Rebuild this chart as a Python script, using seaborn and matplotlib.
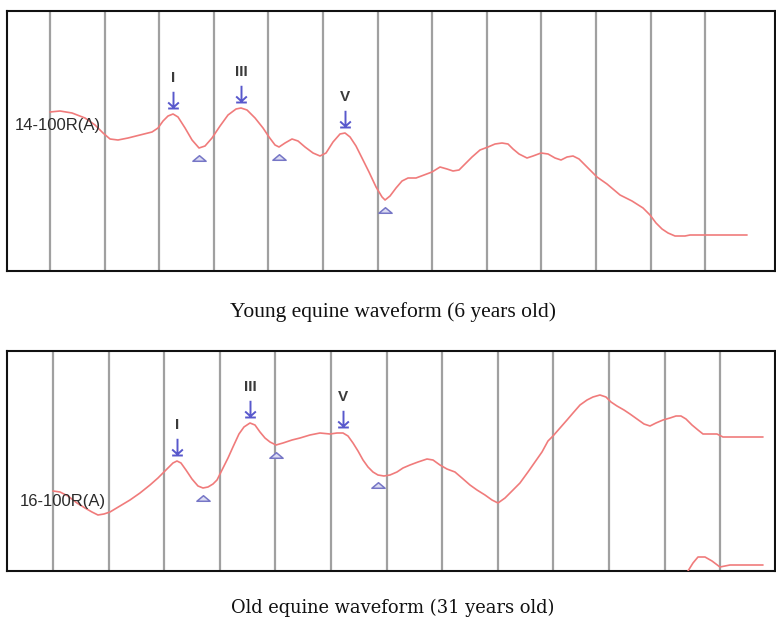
import matplotlib
matplotlib.use("Agg")
import matplotlib.pyplot as plt
import matplotlib.transforms as mtransforms
from matplotlib.path import Path
import numpy as np
import pandas as pd
import seaborn as sns

# ---- Young horse (6 years) : latency (ms) and amplitude (arbitrary units) ----
young_t = [0.000, 0.183, 0.403, 0.641, 0.824, 0.971, 1.099, 1.245, 1.429, 1.648,
           1.868, 1.978, 2.070, 2.161, 2.253, 2.344, 2.473, 2.601, 2.729, 2.839,
           2.967, 3.114, 3.260, 3.407, 3.498, 3.608, 3.755, 3.901, 4.011, 4.121,
           4.194, 4.304, 4.432, 4.542, 4.670, 4.817, 4.945, 5.055, 5.183, 5.311,
           5.403, 5.495, 5.604, 5.714, 5.842, 5.971, 6.081, 6.136, 6.227, 6.337,
           6.447, 6.557, 6.703, 6.850, 6.996, 7.143, 7.271, 7.381, 7.491, 7.601,
           7.729, 7.875, 8.022, 8.150, 8.278, 8.388, 8.480, 8.590, 8.736, 8.846,
           8.993, 9.121, 9.249, 9.359, 9.469, 9.579, 9.689, 9.835, 10.018, 10.201,
           10.440, 10.659, 10.861, 10.989, 11.099, 11.209, 11.319, 11.447, 11.630, 11.722,
           11.905, 12.766]
young_a = [15.9, 16.0, 15.8, 15.3, 14.6, 13.8, 13.2, 13.1, 13.3, 13.6,
           13.9, 14.3, 15.0, 15.5, 15.7, 15.4, 14.3, 13.1, 12.3, 12.5,
           13.3, 14.5, 15.6, 16.2, 16.3, 16.1, 15.3, 14.3, 13.4, 12.6,
           12.4, 12.8, 13.2, 13.0, 12.4, 11.8, 11.5, 11.8, 12.9, 13.7,
           13.8, 13.4, 12.5, 11.3, 9.9, 8.4, 7.4, 7.1, 7.5, 8.3,
           9.0, 9.3, 9.3, 9.6, 9.9, 10.4, 10.2, 10.0, 10.1, 10.7,
           11.4, 12.1, 12.4, 12.7, 12.8, 12.7, 12.2, 11.7, 11.3, 11.5,
           11.8, 11.7, 11.3, 11.1, 11.4, 11.5, 11.2, 10.4, 9.4, 8.7,
           7.6, 7.0, 6.3, 5.6, 4.8, 4.2, 3.8, 3.5, 3.5, 3.6,
           3.6, 3.6]
young_peak_labels = ["I", "III", "V"]
young_peak_t = [2.253, 3.498, 5.403]
young_peak_a = [15.7, 16.3, 13.8]
young_trough_t = [2.729, 4.194, 6.136]
young_trough_a = [12.3, 12.4, 7.1]

# ---- Old horse (31 years) ----
old_t = [0.000, 0.126, 0.270, 0.432, 0.576, 0.701, 0.809, 0.917, 1.025, 1.205,
         1.385, 1.565, 1.745, 1.888, 1.978, 2.068, 2.158, 2.230, 2.302, 2.392,
         2.500, 2.608, 2.698, 2.788, 2.878, 2.950, 3.040, 3.148, 3.237, 3.345,
         3.435, 3.543, 3.633, 3.723, 3.813, 3.903, 4.011, 4.137, 4.299, 4.443,
         4.622, 4.802, 4.982, 5.108, 5.216, 5.306, 5.396, 5.486, 5.576, 5.666,
         5.755, 5.845, 5.953, 6.061, 6.187, 6.295, 6.421, 6.565, 6.727, 6.835,
         6.960, 7.086, 7.230, 7.356, 7.500, 7.626, 7.770, 7.896, 8.004, 8.130,
         8.256, 8.399, 8.543, 8.669, 8.795, 8.903, 8.993, 9.119, 9.245, 9.353,
         9.479, 9.605, 9.712, 9.838, 9.946, 10.036, 10.144, 10.270, 10.378, 10.504,
         10.630, 10.738, 10.845, 10.971, 11.097, 11.205, 11.295, 11.385, 11.493, 11.601,
         11.691, 11.817, 11.942, 12.050, 12.356, 12.770]
old_a = [8.0, 7.9, 7.5, 6.8, 6.3, 5.9, 5.6, 5.7, 5.9, 6.5,
         7.1, 7.8, 8.6, 9.3, 9.8, 10.3, 10.8, 11.0, 10.8, 10.1,
         9.2, 8.5, 8.3, 8.4, 8.7, 9.1, 10.1, 11.3, 12.4, 13.7,
         14.4, 14.8, 14.6, 13.9, 13.3, 12.9, 12.6, 12.8, 13.1, 13.3,
         13.6, 13.8, 13.7, 13.8, 13.8, 13.5, 12.8, 12.0, 11.1, 10.4,
         9.9, 9.6, 9.5, 9.6, 9.9, 10.3, 10.6, 10.9, 11.2, 11.1,
         10.6, 10.2, 9.9, 9.3, 8.6, 8.1, 7.6, 7.1, 6.8, 7.3,
         8.0, 8.8, 9.9, 10.9, 11.9, 13.0, 13.5, 14.3, 15.1, 15.8,
         16.6, 17.1, 17.4, 17.6, 17.4, 16.9, 16.5, 16.1, 15.7, 15.2,
         14.7, 14.5, 14.8, 15.1, 15.3, 15.5, 15.5, 15.2, 14.6, 14.1,
         13.7, 13.7, 13.7, 13.4, 13.4, 13.4]
# second channel, just visible along the bottom edge
old_ch2_t = [11.349, 11.421, 11.511, 11.601, 11.727, 11.853, 11.996, 12.086, 12.176, 12.770]
old_ch2_a = [-0.9, 0.0, 0.8, 1.4, 1.4, 1.0, 0.4, 0.5, 0.6, 0.6]
old_peak_labels = ["I", "III", "V"]
old_peak_t = [2.230, 3.543, 5.216]
old_peak_a = [11.0, 14.8, 13.8]
old_trough_t = [2.698, 4.011, 5.845]
old_trough_a = [8.3, 12.6, 9.6]

grid_ms = list(range(0, 13))

TRACE = "#f07b7b"
MARK = "#5858cc"
GRID = "#a0a0a0"

sns.set_theme(style="white")
plt.rcParams["font.family"] = ["Liberation Sans", "DejaVu Sans"]

fig = plt.figure(figsize=(7.76, 6.22), dpi=100)
ax_top = fig.add_axes([7 / 776, 1 - 271 / 622, 768 / 776, 260 / 622])
ax_bot = fig.add_axes([7 / 776, 1 - 571 / 622, 768 / 776, 220 / 622])

# peak marker: down arrow resting on a bar
arrow_path = Path(
    [(0, 1), (0, -0.6), (-0.55, -0.1), (0, -0.6), (0.55, -0.1), (-0.55, -0.72), (0.55, -0.72)],
    [Path.MOVETO, Path.LINETO, Path.MOVETO, Path.LINETO, Path.LINETO, Path.MOVETO, Path.LINETO],
)
# trough marker: flat open triangle
tri_path = Path([(-1, -0.42), (1, -0.42), (0, 0.42), (-1, -0.42)],
                [Path.MOVETO, Path.LINETO, Path.LINETO, Path.CLOSEPOLY])


def draw_panel(ax, t, a, labels, pk_t, pk_a, tr_t, tr_a, xlim, ylim, chan):
    ax.set_xlim(*xlim)
    ax.set_ylim(*ylim)
    for g in grid_ms:
        ax.axvline(g, color=GRID, lw=1.6, zorder=1)
    df = pd.DataFrame({"t": t, "a": a})
    sns.lineplot(data=df, x="t", y="a", ax=ax, color=TRACE, lw=1.2,
                 sort=False, estimator=None, zorder=3,
                 solid_joinstyle="round", solid_capstyle="round")
    up13 = mtransforms.offset_copy(ax.transData, fig=fig, x=0, y=13, units="dots")
    down10 = mtransforms.offset_copy(ax.transData, fig=fig, x=0, y=-10, units="dots")
    ax.plot(pk_t, pk_a, ls="none", marker=arrow_path, ms=14, mew=1.4,
            mec=MARK, mfc="none", transform=up13, zorder=4, clip_on=False)
    ax.plot(tr_t, tr_a, ls="none", marker=tri_path, ms=9.5, mew=1.1,
            mec="#7676c6", mfc="#dcdcf2", transform=down10, zorder=4, clip_on=False)
    for lab, x, y in zip(labels, pk_t, pk_a):
        ax.annotate(lab, (x, y), xytext=(0, 26), textcoords="offset points",
                    ha="center", va="center", fontsize=11, color="#3a3a3a",
                    fontweight="bold")
    ax.text(chan[1], chan[2], chan[0], transform=ax.transAxes, ha="left",
            va="center", fontsize=12, color="#2a2a2a", zorder=5)
    ax.set_xlabel("")
    ax.set_ylabel("")
    ax.set_xticks([])
    ax.set_yticks([])
    for s in ax.spines.values():
        s.set_visible(True)
        s.set_color("#111111")
        s.set_linewidth(1.5)


draw_panel(ax_top, young_t, young_a, young_peak_labels, young_peak_t, young_peak_a,
           young_trough_t, young_trough_a, (-0.788, 13.278), (0, 26),
           ("14-100R(A)", 0.0104, 0.558))

draw_panel(ax_bot, old_t, old_a, old_peak_labels, old_peak_t, old_peak_a,
           old_trough_t, old_trough_a, (-0.827, 12.986), (0, 22),
           ("16-100R(A)", 0.017, 0.314))
sns.lineplot(x=old_ch2_t, y=old_ch2_a, ax=ax_bot, color=TRACE, lw=1.2,
             sort=False, estimator=None, zorder=3, solid_joinstyle="round")
ax_bot.set_xlabel("")
ax_bot.set_ylabel("")

fig.text(393 / 776, 1 - 312 / 622, "Young equine waveform (6 years old)",
         ha="center", va="center", fontsize=15.5, family="Liberation Serif", color="#111111")
fig.text(393 / 776, 1 - 608 / 622, "Old equine waveform (31 years old)",
         ha="center", va="center", fontsize=12.9, family="DejaVu Serif", color="#111111")

fig.savefig("out.png", dpi=100, facecolor="white")
